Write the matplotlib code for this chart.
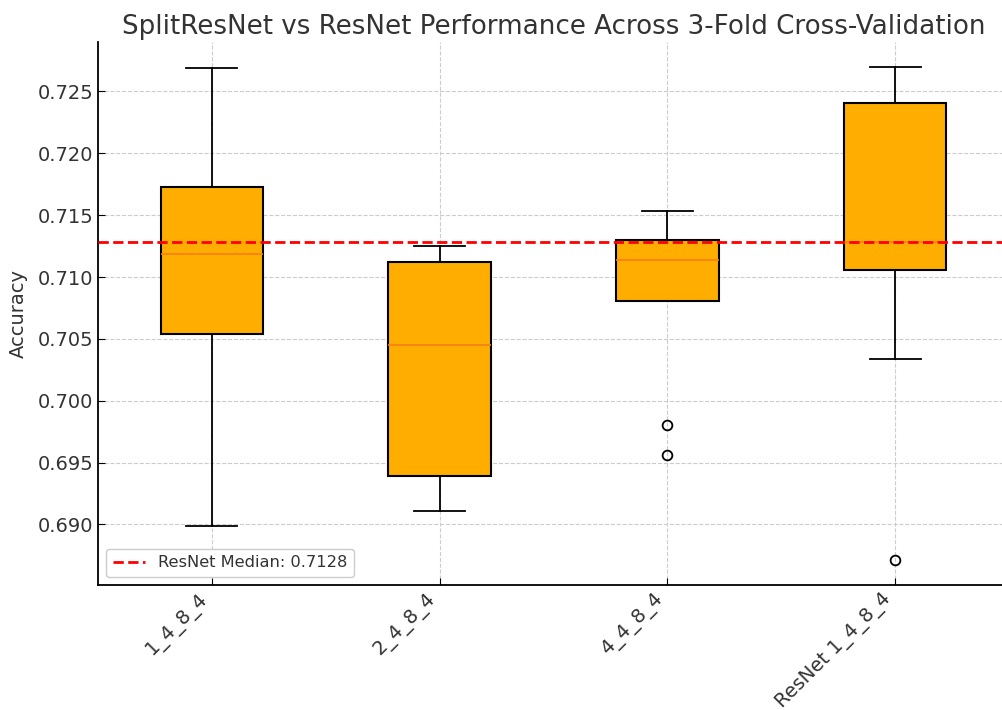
import matplotlib
matplotlib.use('Agg')
import matplotlib.pyplot as plt

# box statistics (3-fold CV accuracies)
labels = ['1_4_8_4', '2_4_8_4', '4_4_8_4', 'ResNet 1_4_8_4']
whislo = [0.6899, 0.6911, 0.7081, 0.7034]
q1 = [0.7054, 0.6939, 0.7081, 0.7106]
med = [0.7119, 0.7045, 0.7114, 0.7128]
q3 = [0.7173, 0.7112, 0.7130, 0.7241]
whishi = [0.7269, 0.7125, 0.7153, 0.7270]
fliers = [[], [], [0.6980, 0.6956], [0.6871]]
resnet_median = 0.7128

text_col = '#333333'
plt.rcParams['font.family'] = 'DejaVu Sans'

fig = plt.figure(figsize=(10.03, 7.10), dpi=100)
ax = fig.add_axes([98 / 1003, 1 - 585 / 710, 911 / 1003, 543 / 710])

stats = []
for i in range(len(labels)):
    stats.append({'label': labels[i], 'whislo': whislo[i], 'q1': q1[i], 'med': med[i],
                  'q3': q3[i], 'whishi': whishi[i], 'fliers': fliers[i]})

ax.bxp(stats, widths=0.45, patch_artist=True, showfliers=True,
       boxprops=dict(facecolor='#FFAE00', edgecolor='black', linewidth=1.5),
       medianprops=dict(color='#F57F20', linewidth=1.2),
       whiskerprops=dict(color='black', linewidth=1.3),
       capprops=dict(color='black', linewidth=1.3),
       flierprops=dict(marker='o', markerfacecolor='none', markeredgecolor='black',
                       markersize=7, markeredgewidth=1.3))

ax.axhline(resnet_median, color='red', linestyle='--', linewidth=2,
           label=f'ResNet Median: {resnet_median:.4f}', zorder=5)

ax.set_ylim(0.6851, 0.7290)
ax.set_xlim(0.5, 4.5)
ax.set_yticks([0.690, 0.695, 0.700, 0.705, 0.710, 0.715, 0.720, 0.725])
ax.set_xticks([1, 2, 3, 4])
ax.set_xticklabels(labels, rotation=45, ha='right')

ax.set_title('SplitResNet vs ResNet Performance Across 3-Fold Cross-Validation',
             fontsize=18.8, color=text_col, pad=6)
ax.set_ylabel('Accuracy', fontsize=14, color=text_col, labelpad=7)
ax.tick_params(axis='both', direction='in', labelsize=14, labelcolor=text_col, length=5)
ax.grid(True, linestyle='--', color='#cccccc', linewidth=0.8)
ax.set_axisbelow(True)
for side in ['top', 'right']:
    ax.spines[side].set_visible(False)
for side in ['left', 'bottom']:
    ax.spines[side].set_linewidth(1.3)

leg = ax.legend(loc='lower left', fontsize=11.7, framealpha=1)
for t in leg.get_texts():
    t.set_color(text_col)

fig.savefig('out.png', dpi=100)
